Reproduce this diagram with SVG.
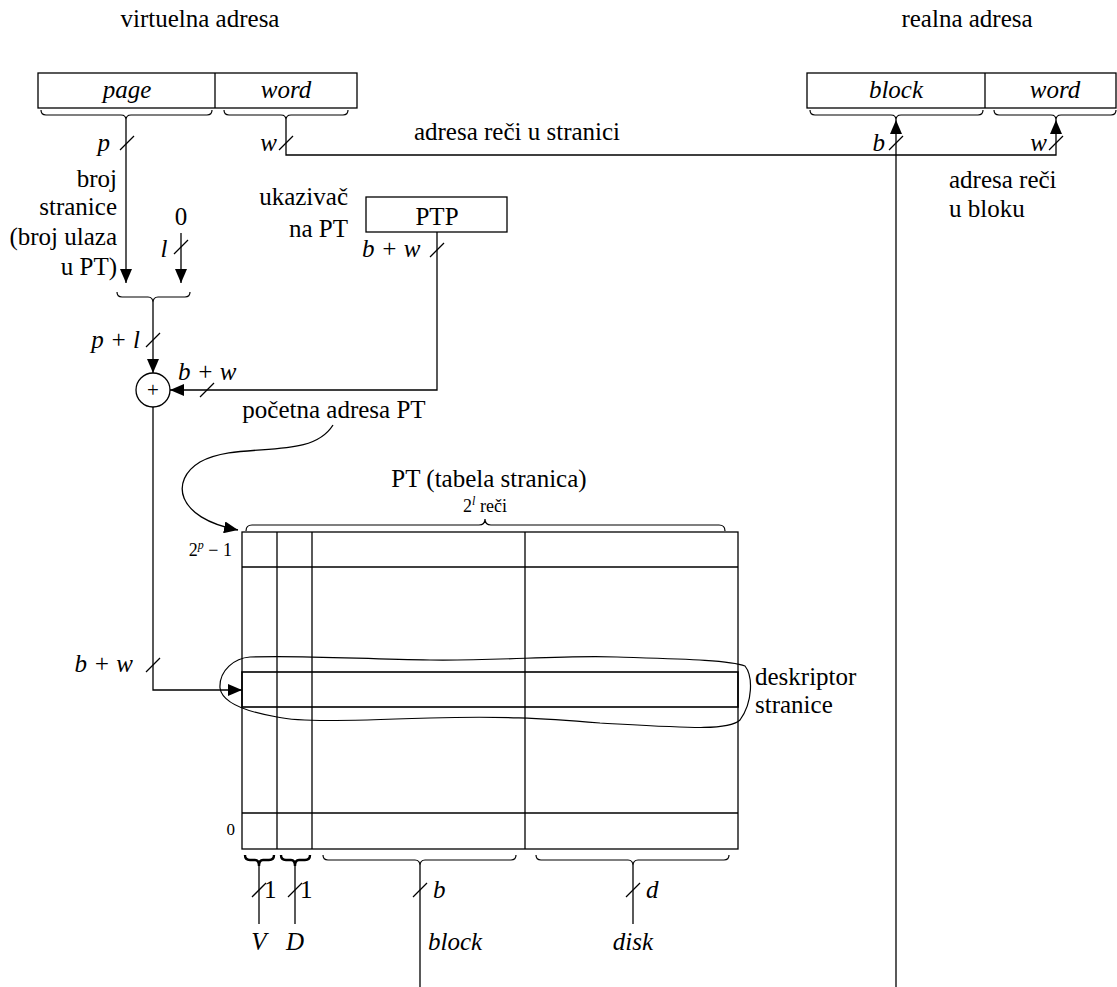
<svg xmlns="http://www.w3.org/2000/svg" width="1117" height="987" viewBox="0 0 1117 987">
<style>
.it{font-style:italic}
.ln{fill:none;stroke:#000;stroke-width:1.3}
.br{fill:none;stroke:#000;stroke-width:1.2}
.bb{fill:none;stroke:#000;stroke-width:2.4}
.box{fill:#fff;stroke:#000;stroke-width:1.3}
</style>
<defs>
<marker id="arr" markerUnits="userSpaceOnUse" markerWidth="15" markerHeight="12" refX="14" refY="6" orient="auto"><path d="M0,0 L14,6 L0,12 Z" fill="#000"/></marker>
</defs>
<rect width="1117" height="987" fill="#fff"/>
<g font-family="Liberation Serif" font-size="25" fill="#000">

<text x="200" y="27" text-anchor="middle">virtuelna adresa</text>
<text x="967" y="27" text-anchor="middle">realna adresa</text>

<g id="virtual-address">
<rect class="box" x="38" y="73" width="319" height="35"/>
<line class="ln" x1="215" y1="73" x2="215" y2="108"/>
<text class="it" x="127" y="98" text-anchor="middle">page</text>
<text class="it" x="286" y="98" text-anchor="middle">word</text>
<path class="br" d="M41,110 Q41,115 46,115 L121,115 Q126,115 126,120 Q126,115 131,115 L207,115 Q212,115 212,110"/>
<path class="br" d="M224,110 Q224,115 229,115 L281,115 Q286,115 286,120 Q286,115 291,115 L343,115 Q348,115 348,110"/>
</g>

<g id="real-address">
<rect class="box" x="807" y="73" width="309" height="35"/>
<line class="ln" x1="985" y1="73" x2="985" y2="108"/>
<text class="it" x="896" y="98" text-anchor="middle">block</text>
<text class="it" x="1055" y="98" text-anchor="middle">word</text>
<path class="br" d="M810,110 Q810,115 815,115 L891,115 Q896,115 896,120 Q896,115 901,115 L978,115 Q983,115 983,110"/>
<path class="br" d="M994,110 Q994,115 999,115 L1051,115 Q1056,115 1056,120 Q1056,115 1061,115 L1111,115 Q1116,115 1116,110"/>
</g>

<g id="ptp">
<rect class="box" x="366" y="197" width="141" height="35"/>
<text x="437" y="225" text-anchor="middle">PTP</text>
<text x="348" y="205" text-anchor="end">ukazivač</text>
<text x="348" y="237" text-anchor="end">na PT</text>
</g>

<g id="adder">
<circle class="box" cx="153" cy="390" r="17"/>
<text x="153" y="397" text-anchor="middle" font-size="21">+</text>
</g>

<g id="page-table">
<rect class="box" x="242" y="532" width="496" height="317"/>
<line class="ln" x1="242" y1="567" x2="738" y2="567"/>
<line class="ln" x1="242" y1="813" x2="738" y2="813"/>
<line class="ln" x1="277" y1="532" x2="277" y2="849"/>
<line class="ln" x1="312" y1="532" x2="312" y2="849"/>
<line class="ln" x1="525" y1="532" x2="525" y2="849"/>
<rect x="242" y="672" width="496" height="35" fill="none" stroke="#000" stroke-width="1.6"/>
<path class="br" d="M250,657 C300,655 360,659 430,660 C500,661 560,655 617,657 C680,659 730,660 745,666 C753,676 753,702 740,720 C728,731 690,728 600,723 C540,718 500,716 430,718 C340,721 300,722 277,717 C242,711 222,702 220,688 C219,670 235,658 250,657 Z"/>
<text x="755" y="685">deskriptor</text>
<text x="755" y="713">stranice</text>
<text x="489" y="487" text-anchor="middle">PT (tabela stranica)</text>
<text font-size="18" x="485" y="512" text-anchor="middle">2<tspan class="it" font-size="12" dy="-7">l</tspan><tspan dy="7"> reči</tspan></text>
<path class="br" d="M246,531 Q246,525 252,525 L479,525 Q485,525 485,519 Q485,525 491,525 L719,525 Q725,525 725,531"/>
<text font-size="18" x="232" y="556" text-anchor="end">2<tspan class="it" font-size="12" dy="-7">p</tspan><tspan dy="7"> − 1</tspan></text>
<text font-size="17" x="235" y="835" text-anchor="end">0</text>
<path class="bb" d="M245,855 Q245,860 250,860 L255,860 Q259,860 259,866 Q259,860 263,860 L269,860 Q274,860 274,855"/>
<path class="bb" d="M281,855 Q281,860 286,860 L291,860 Q295,860 295,866 Q295,860 299,860 L305,860 Q310,860 310,855"/>
<path class="br" d="M323,855 Q323,860 328,860 L415,860 Q420,860 420,866 Q420,860 425,860 L511,860 Q516,860 516,855"/>
<path class="br" d="M536,855 Q536,860 541,860 L628,860 Q633,860 633,866 Q633,860 638,860 L724,860 Q729,860 729,855"/>
<text class="it" x="259" y="950" text-anchor="middle">V</text>
<text class="it" x="295" y="950" text-anchor="middle">D</text>
<text class="it" x="428" y="950">block</text>
<text class="it" x="633" y="950" text-anchor="middle">disk</text>
<text x="264" y="898">1</text>
<text x="300" y="898">1</text>
<text class="it" x="433" y="898">b</text>
<text class="it" x="646" y="898">d</text>
</g>

<g id="connectors">
<line class="ln" x1="126" y1="120" x2="126" y2="283" marker-end="url(#arr)"/>
<line class="ln" x1="181" y1="233" x2="181" y2="283" marker-end="url(#arr)"/>
<path class="br" d="M117,292 Q117,297 122,297 L148,297 Q153,297 153,303 Q153,297 158,297 L185,297 Q190,297 190,292"/>
<line class="ln" x1="153" y1="303" x2="153" y2="373" marker-end="url(#arr)"/>
<polyline class="ln" points="437,232 437,390 170,390" marker-end="url(#arr)"/>
<polyline class="ln" points="153,407 153,690 242,690" marker-end="url(#arr)"/>
<polyline class="ln" points="286,120 286,155 1056,155 1056,120" marker-end="url(#arr)"/>
<line class="ln" x1="896" y1="987" x2="896" y2="120" marker-end="url(#arr)"/>
<path class="ln" d="M333,425 C310,462 240,440 200,462 C170,480 175,518 238,530" marker-end="url(#arr)"/>
<line class="ln" x1="259" y1="866" x2="259" y2="924"/>
<line class="ln" x1="295" y1="866" x2="295" y2="924"/>
<line class="ln" x1="420" y1="866" x2="420" y2="987"/>
<line class="ln" x1="633" y1="866" x2="633" y2="924"/>
<g class="ln">
<line x1="120" y1="150" x2="134" y2="136"/>
<line x1="279" y1="150" x2="293" y2="136"/>
<line x1="889" y1="150" x2="903" y2="136"/>
<line x1="1049" y1="150" x2="1063" y2="136"/>
<line x1="174" y1="254" x2="188" y2="240"/>
<line x1="146" y1="347" x2="160" y2="333"/>
<line x1="200" y1="397" x2="214" y2="383"/>
<line x1="430" y1="257" x2="444" y2="243"/>
<line x1="146" y1="672" x2="160" y2="658"/>
<line x1="252" y1="897" x2="266" y2="883"/>
<line x1="288" y1="897" x2="302" y2="883"/>
<line x1="413" y1="897" x2="427" y2="883"/>
<line x1="626" y1="897" x2="640" y2="883"/>
</g>
</g>

<g id="labels">
<text class="it" x="110" y="151" text-anchor="end">p</text>
<text class="it" x="277" y="151" text-anchor="end">w</text>
<text class="it" x="885" y="151" text-anchor="end">b</text>
<text class="it" x="1047" y="151" text-anchor="end">w</text>
<text x="517" y="140" text-anchor="middle">adresa reči u stranici</text>
<text x="949" y="188">adresa reči</text>
<text x="949" y="217">u bloku</text>
<text x="117" y="187" text-anchor="end">broj</text>
<text x="117" y="215" text-anchor="end">stranice</text>
<text x="117" y="245" text-anchor="end">(broj ulaza</text>
<text x="117" y="275" text-anchor="end">u PT)</text>
<text x="181" y="225" text-anchor="middle">0</text>
<text class="it" x="164" y="257" text-anchor="middle">l</text>
<text class="it" x="140" y="348" text-anchor="end">p + l</text>
<text class="it" x="178" y="380">b + w</text>
<text class="it" x="362" y="257">b + w</text>
<text class="it" x="133" y="672" text-anchor="end">b + w</text>
<text x="334" y="418" text-anchor="middle">početna adresa PT</text>
</g>
</g>
</svg>
